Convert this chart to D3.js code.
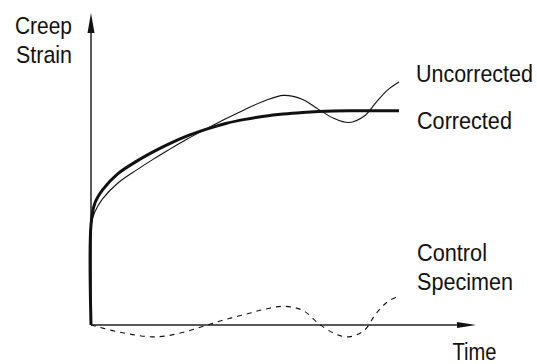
<!DOCTYPE html>
<html>
<head>
<meta charset="utf-8">
<script src="https://cdn.jsdelivr.net/npm/d3@7"></script>
<style>
  html, body { margin: 0; padding: 0; background: #fff; }
  svg { display: block; }
  text { font-family: "Liberation Sans", Arial, sans-serif; fill: #111; }
</style>
</head>
<body>
<svg id="chart" width="537" height="364"></svg>
<script>
// Time samples shared by all three curves (arbitrary units, 0–100 on the axis)
const time = [0, 1, 3, 7, 12, 16, 20, 25, 30, 35, 40, 45, 50, 55, 59, 63, 67, 71, 74, 77, 80];

// Creep strain of the loaded specimen after correction (arbitrary units, 0–100)
const corrected = [32.1, 39.0, 43.3, 48.5, 52.6, 55.4, 57.9, 60.6, 62.8, 64.6, 65.9, 66.9, 67.6, 68.1, 68.4, 68.6, 68.7, 68.7, 68.7, 68.7, 68.7];

// Raw strain of the loaded specimen, before subtracting the control
const uncorrected = [32.1, 36.2, 40.4, 45.5, 49.8, 53.0, 56.0, 59.6, 62.9, 66.1, 69.1, 71.8, 73.6, 72.3, 69.2, 66.3, 64.9, 67.0, 71.3, 75.3, 77.9];

// Strain of the unloaded control specimen (shrinkage / thermal drift)
const control = [0, -0.3, -1.0, -2.2, -3.3, -3.8, -3.4, -2.0, -0.1, 1.8, 3.4, 5.0, 6.0, 4.7, 0.6, -2.6, -3.8, -1.7, 3.6, 7.4, 9.3];

// Instantaneous strain on loading, the vertical rise at t = 0
const loadStep = [0, 32.1];

const labels = {
  yAxis: ["Creep", "Strain"],
  xAxis: "Time",
  uncorrected: "Uncorrected",
  corrected: "Corrected",
  control: ["Control", "Specimen"]
};

const svg = d3.select("#chart");

const x = d3.scaleLinear().domain([0, 100]).range([91, 476]);
const y = d3.scaleLinear().domain([0, 100]).range([325, 13]);

const ink = "#111";

// Axes with arrowheads
const axisColor = "#222";
svg.append("line")
  .attr("x1", x(0)).attr("y1", y(0))
  .attr("x2", x(0)).attr("y2", y(100) + 10)
  .attr("stroke", axisColor).attr("stroke-width", 1.5);
svg.append("line")
  .attr("x1", x(0)).attr("y1", y(0))
  .attr("x2", x(100) - 10).attr("y2", y(0))
  .attr("stroke", axisColor).attr("stroke-width", 1.5);

svg.append("path")
  .attr("d", `M${x(0)},${y(100)} L${x(0) - 3.5},${y(100) + 20} L${x(0) + 3.5},${y(100) + 20} Z`)
  .attr("fill", ink);
svg.append("path")
  .attr("d", `M${x(100)},${y(0)} L${x(100) - 19},${y(0) - 3} L${x(100) - 19},${y(0) + 3} Z`)
  .attr("fill", ink);

const line = d3.line()
  .x(d => x(d[0]))
  .y(d => y(d[1]))
  .curve(d3.curveCatmullRom.alpha(0.5));

const zip = vals => time.map((t, i) => [t, vals[i]]);
// Loaded-specimen curves begin with the vertical loading step
const withStep = vals => [[0, loadStep[0]]].concat(zip(vals));

// Control specimen (dashed)
svg.append("path")
  .attr("d", line(zip(control)))
  .attr("fill", "none").attr("stroke", ink)
  .attr("stroke-width", 1.1)
  .attr("stroke-dasharray", "5,5");

// Uncorrected (thin)
svg.append("path")
  .attr("d", line(withStep(uncorrected)))
  .attr("fill", "none").attr("stroke", ink)
  .attr("stroke-width", 1.1);

// Corrected (thick)
svg.append("path")
  .attr("d", line(withStep(corrected)))
  .attr("fill", "none").attr("stroke", ink)
  .attr("stroke-width", 3);

// Text labels, narrowed horizontally to a condensed look
function label(str, px, py, width) {
  const t = svg.append("text")
    .attr("font-size", 24)
    .text(str);
  const natural = t.node().getComputedTextLength();
  t.attr("transform", `translate(${px},${py}) scale(${width / natural},1)`);
}

label(labels.yAxis[0], 15, 33.5, 57);
label(labels.yAxis[1], 16, 62.7, 56);
label(labels.uncorrected, 416, 81.5, 117);
label(labels.corrected, 417, 129, 95);
label(labels.control[0], 417, 261, 70);
label(labels.control[1], 417, 290, 96);
label(labels.xAxis, 452.5, 359.5, 44);
</script>
</body>
</html>
